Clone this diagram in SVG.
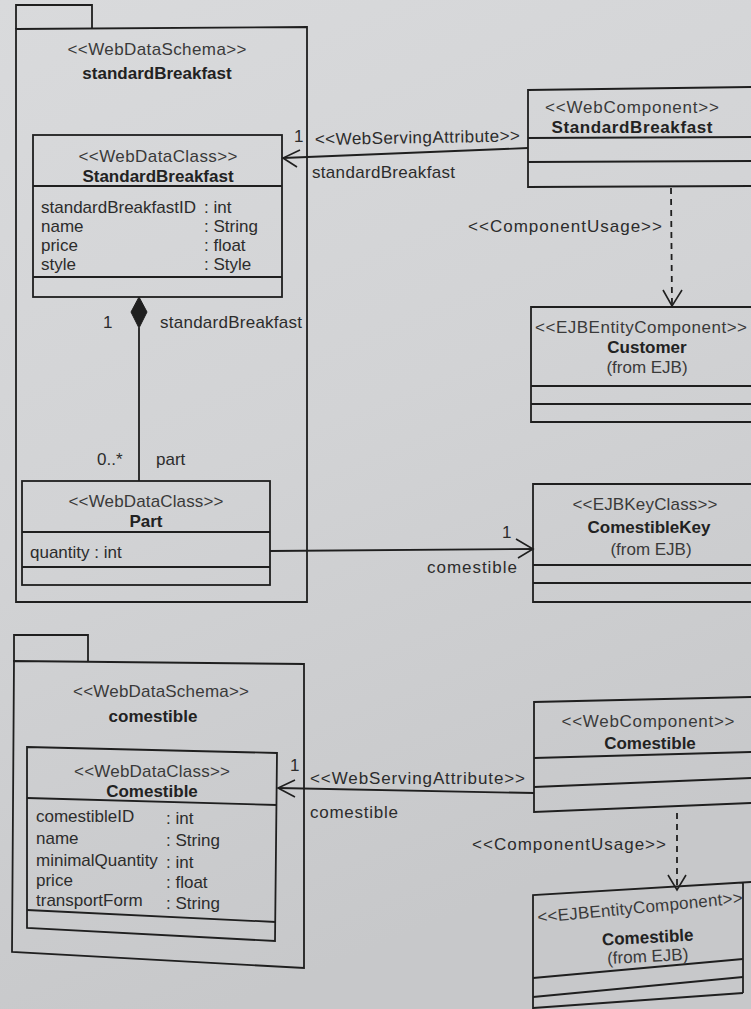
<svg xmlns="http://www.w3.org/2000/svg" width="751" height="1009" viewBox="0 0 751 1009">
  <defs>
    <linearGradient id="paper" x1="0" y1="0" x2="0.3" y2="1">
      <stop offset="0" stop-color="#d9dadc"/>
      <stop offset="0.5" stop-color="#d2d3d5"/>
      <stop offset="1" stop-color="#c7c8ca"/>
    </linearGradient>
    <style>
      text { font-family: "Liberation Sans", Arial, sans-serif; font-size: 17px; fill: #2c2c2c; }
      .st { fill: #3a3a3a; }
      .nm { font-weight: bold; fill: #222; }
      .mid { text-anchor: middle; }
      .box { fill: none; stroke: #1f1f1f; stroke-width: 1.8; stroke-linejoin: miter; }
      .ln { fill: none; stroke: #1f1f1f; stroke-width: 1.8; }
      .dash { stroke-dasharray: 6 5; }
      .head { fill: none; stroke: #1f1f1f; stroke-width: 1.6; }
    </style>
  </defs>

  <rect x="0" y="0" width="751" height="1009" fill="url(#paper)"/>

  <!-- package: standardBreakfast -->
  <g id="pkg-standardBreakfast">
    <path class="box" d="M16,29 V5 H92 V29"/>
    <path class="box" d="M16,29 L307,27 L307,602 L16,602 Z"/>
    <text class="st mid" x="157" y="55" textLength="179">&lt;&lt;WebDataSchema&gt;&gt;</text>
    <text class="nm mid" x="157" y="79">standardBreakfast</text>
  </g>

  <g id="cls-StandardBreakfast">
    <rect class="box" x="33" y="135" width="249" height="162"/>
    <line class="ln" x1="33" y1="186" x2="282" y2="186"/>
    <line class="ln" x1="33" y1="277" x2="282" y2="277"/>
    <text class="st mid" x="158" y="162" textLength="159">&lt;&lt;WebDataClass&gt;&gt;</text>
    <text class="nm mid" x="158" y="182">StandardBreakfast</text>
    <text x="41" y="213">standardBreakfastID</text>
    <text x="204" y="213">: int</text>
    <text x="41" y="232">name</text>
    <text x="204" y="232">: String</text>
    <text x="41" y="251">price</text>
    <text x="204" y="251">: float</text>
    <text x="41" y="270">style</text>
    <text x="204" y="270">: Style</text>
  </g>

  <g id="cls-Part">
    <rect class="box" x="22" y="481" width="248" height="104"/>
    <line class="ln" x1="22" y1="532" x2="270" y2="532"/>
    <line class="ln" x1="22" y1="567" x2="270" y2="567"/>
    <text class="st mid" x="146" y="507" textLength="155">&lt;&lt;WebDataClass&gt;&gt;</text>
    <text class="nm mid" x="146" y="527">Part</text>
    <text x="30" y="558">quantity : int</text>
  </g>

  <g id="comp-StandardBreakfast">
    <path class="box" d="M751,87 L528,90 L528,187 L751,186"/>
    <line class="ln" x1="528" y1="138" x2="751" y2="137"/>
    <line class="ln" x1="528" y1="162" x2="751" y2="161"/>
    <text class="st mid" x="632" y="113" textLength="174">&lt;&lt;WebComponent&gt;&gt;</text>
    <text class="nm mid" x="632" y="133" textLength="161">StandardBreakfast</text>
  </g>

  <g id="ejb-Customer">
    <path class="box" d="M751,307 L531,307 L531,422 L751,422"/>
    <line class="ln" x1="531" y1="386" x2="751" y2="386"/>
    <line class="ln" x1="531" y1="404" x2="751" y2="404"/>
    <text class="st" x="535" y="333" textLength="212">&lt;&lt;EJBEntityComponent&gt;&gt;</text>
    <text class="nm mid" x="647" y="353">Customer</text>
    <text class="st mid" x="647" y="373">(from EJB)</text>
  </g>

  <g id="key-ComestibleKey">
    <path class="box" d="M751,484 L533,484 L533,602 L751,602"/>
    <line class="ln" x1="533" y1="565" x2="751" y2="565"/>
    <line class="ln" x1="533" y1="583" x2="751" y2="583"/>
    <text class="st mid" x="645" y="510" textLength="145">&lt;&lt;EJBKeyClass&gt;&gt;</text>
    <text class="nm mid" x="649" y="533">ComestibleKey</text>
    <text class="st mid" x="651" y="555">(from EJB)</text>
  </g>

  <!-- package: comestible -->
  <g id="pkg-comestible">
    <path class="box" d="M14,662 V635 H88 V662"/>
    <path class="box" d="M14,661 L304,664 L304,968 L12,952 Z"/>
    <text class="st mid" x="161" y="697" textLength="176">&lt;&lt;WebDataSchema&gt;&gt;</text>
    <text class="nm mid" x="153" y="722">comestible</text>
  </g>

  <g id="cls-Comestible">
    <path class="box" d="M27,747 L277,753 L275,941 L27,928 Z"/>
    <line class="ln" x1="27" y1="798" x2="277" y2="805"/>
    <line class="ln" x1="27" y1="910" x2="276" y2="922"/>
    <text class="st mid" x="152" y="777" textLength="156">&lt;&lt;WebDataClass&gt;&gt;</text>
    <text class="nm mid" x="152" y="797">Comestible</text>
    <text x="36" y="822">comestibleID</text>
    <text x="166" y="824">: int</text>
    <text x="36" y="844">name</text>
    <text x="166" y="846">: String</text>
    <text x="36" y="866">minimalQuantity</text>
    <text x="166" y="868">: int</text>
    <text x="36" y="886">price</text>
    <text x="166" y="888">: float</text>
    <text x="36" y="906">transportForm</text>
    <text x="166" y="909">: String</text>
  </g>

  <g id="comp-Comestible">
    <path class="box" d="M751,697 L534,702 L534,812 L751,803"/>
    <line class="ln" x1="534" y1="758" x2="751" y2="752"/>
    <line class="ln" x1="534" y1="787" x2="751" y2="778"/>
    <text class="st mid" x="648" y="727" textLength="173">&lt;&lt;WebComponent&gt;&gt;</text>
    <text class="nm mid" x="650" y="749">Comestible</text>
  </g>

  <g id="ejb-Comestible">
    <path class="box" d="M751,882 L533,895 L533,1009 M743,883 L743,993"/>
    <line class="ln" x1="533" y1="978" x2="743" y2="959"/>
    <line class="ln" x1="533" y1="997" x2="743" y2="977"/>
    <line class="ln" x1="533" y1="1008" x2="743" y2="993"/>
    <text class="st" x="538" y="923" textLength="206" transform="rotate(-5.5 538 923)">&lt;&lt;EJBEntityComponent&gt;&gt;</text>
    <text class="nm mid" x="648" y="943" transform="rotate(-3 648 943)">Comestible</text>
    <text class="st mid" x="648" y="962" transform="rotate(-3 648 962)">(from EJB)</text>
  </g>

  <!-- connectors -->
  <g id="connectors">
    <!-- WebServingAttribute: StandardBreakfast component to data class -->
    <line class="ln" x1="528" y1="148" x2="283" y2="158"/>
    <polyline class="head" points="300,150 283,158 297,167"/>
    <text x="294" y="142">1</text>
    <text x="315" y="145" textLength="205" transform="rotate(-1 315 145)">&lt;&lt;WebServingAttribute&gt;&gt;</text>
    <text x="312" y="178" textLength="143">standardBreakfast</text>

    <!-- composition: StandardBreakfast owns Part -->
    <line class="ln" x1="139" y1="328" x2="139" y2="481"/>
    <polygon points="139,297 147,312 139,328 131,312" fill="#1f1f1f" stroke="#1f1f1f" stroke-width="1"/>
    <text x="103" y="328">1</text>
    <text x="160" y="328" textLength="142">standardBreakfast</text>
    <text x="97" y="465">0..*</text>
    <text x="156" y="465">part</text>

    <!-- Part to ComestibleKey -->
    <line class="ln" x1="270" y1="551" x2="533" y2="549"/>
    <polyline class="head" points="516,539 533,549 518,558"/>
    <text x="502" y="538">1</text>
    <text x="427" y="573" textLength="90">comestible</text>

    <!-- ComponentUsage: StandardBreakfast component uses Customer -->
    <line class="ln dash" x1="671" y1="188" x2="672" y2="305"/>
    <polyline class="head" points="663,290 672,306 682,290"/>
    <text x="468" y="232" textLength="194">&lt;&lt;ComponentUsage&gt;&gt;</text>

    <!-- WebServingAttribute: Comestible component to data class -->
    <line class="ln" x1="534" y1="793" x2="278" y2="788"/>
    <polyline class="head" points="295,780 278,788 295,797"/>
    <text x="290" y="771">1</text>
    <text x="310" y="784" textLength="215">&lt;&lt;WebServingAttribute&gt;&gt;</text>
    <text x="310" y="818" textLength="88">comestible</text>

    <!-- ComponentUsage: Comestible component uses EJB Comestible -->
    <line class="ln dash" x1="677" y1="813" x2="677" y2="888"/>
    <polyline class="head" points="668,875 677,890 686,875"/>
    <text x="472" y="850" textLength="194">&lt;&lt;ComponentUsage&gt;&gt;</text>
  </g>
</svg>
